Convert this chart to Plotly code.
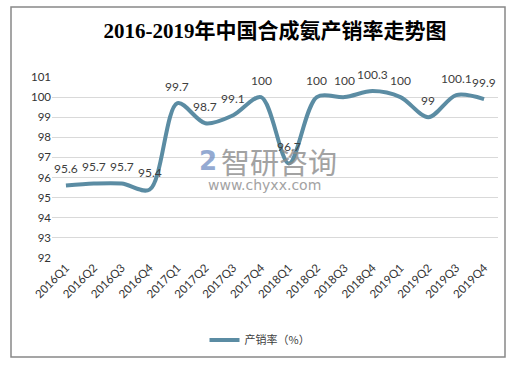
import plotly.graph_objects as go

categories = ["2016Q1", "2016Q2", "2016Q3", "2016Q4", "2017Q1", "2017Q2", "2017Q3", "2017Q4",
              "2018Q1", "2018Q2", "2018Q3", "2018Q4", "2019Q1", "2019Q2", "2019Q3", "2019Q4"]
values = [95.6, 95.7, 95.7, 95.4, 99.7, 98.7, 99.1, 100, 96.7, 100, 100, 100.3, 100, 99, 100.1, 99.9]
labels = ["95.6", "95.7", "95.7", "95.4", "99.7", "98.7", "99.1", "100", "96.7", "100", "100",
          "100.3", "100", "99", "100.1", "99.9"]
y_ticks = [92, 93, 94, 95, 96, 97, 98, 99, 100, 101]

title = "2016-2019年中国合成氨产销率走势图"
series_name = "产销率（%）"

L, R, T, B = 52, 29, 77, 107
W, H = 527, 365
pw, ph = W - L - R, H - T - B

def px_x(x):
    return (x - L) / pw

def px_y(y):
    return (H - B - y) / ph

fig = go.Figure()
fig.add_trace(go.Scatter(
    x=categories, y=values, mode="lines", name=series_name,
    line=dict(color="#5b8ca3", width=4, shape="spline", smoothing=0.9),
    hoverinfo="x+y",
))

for c, v, t in zip(categories, values, labels):
    fig.add_annotation(x=c, y=v, text=t, showarrow=False, yshift=17, yanchor="middle",
                       font=dict(family="Lato, Noto Sans CJK SC", size=12, color="#404040"))

fig.update_layout(
    width=W, height=H,
    margin=dict(l=L, r=R, t=T, b=B, autoexpand=False),
    paper_bgcolor="white", plot_bgcolor="white",
    title=dict(text=title, x=0.5, xref="paper", xanchor="center", y=1 - 31 / H,
               yanchor="middle",
               font=dict(family="Liberation Serif, Noto Sans CJK SC", size=21, color="#000000",
                         weight=600)),
    xaxis=dict(type="category", tickangle=-45, showgrid=False, showline=False, ticks="",
               automargin=False,
               tickfont=dict(family="Lato, Noto Sans CJK SC", size=11.5, color="#333333"),
               range=[-0.5, len(categories) - 0.5]),
    yaxis=dict(range=[92, 101], tickvals=y_ticks, showgrid=True, gridcolor="#d9d9d9", gridwidth=1,
               zeroline=False, showline=False, ticks="", automargin=False,
               tickfont=dict(family="Lato, Noto Sans CJK SC", size=11.5, color="#333333")),
    showlegend=True,
    legend=dict(orientation="h", x=px_x(260), xanchor="center", y=px_y(340), yanchor="middle",
                font=dict(family="Noto Sans CJK SC", size=11, color="#404040"), itemwidth=30),
)

# outer border
fig.add_shape(type="rect", xref="paper", yref="paper",
              x0=px_x(11), x1=px_x(505), y0=px_y(357), y1=px_y(7),
              line=dict(color="#888888", width=1.5), fillcolor="rgba(0,0,0,0)")

# watermark
fig.add_annotation(text="智研咨询", xref="paper", yref="paper", x=px_x(279), y=px_y(161),
                   showarrow=False, font=dict(family="Noto Sans CJK SC", size=29, color="#8c8c8c"),
                   opacity=0.8)
fig.add_annotation(text="www.chyxx.com", xref="paper", yref="paper", x=px_x(264), y=px_y(185),
                   showarrow=False, font=dict(family="DejaVu Sans", size=14, color="#8c8c8c"),
                   opacity=0.8)
fig.add_annotation(text="<b>2</b>", xref="paper", yref="paper", x=px_x(208), y=px_y(161),
                   showarrow=False, font=dict(family="DejaVu Sans", size=26, color="#7a95c7"),
                   opacity=0.8)

fig.write_html("out.html", config={"displayModeBar": False},
               post_script="document.body.style.margin='0';document.body.style.overflow='hidden';")
